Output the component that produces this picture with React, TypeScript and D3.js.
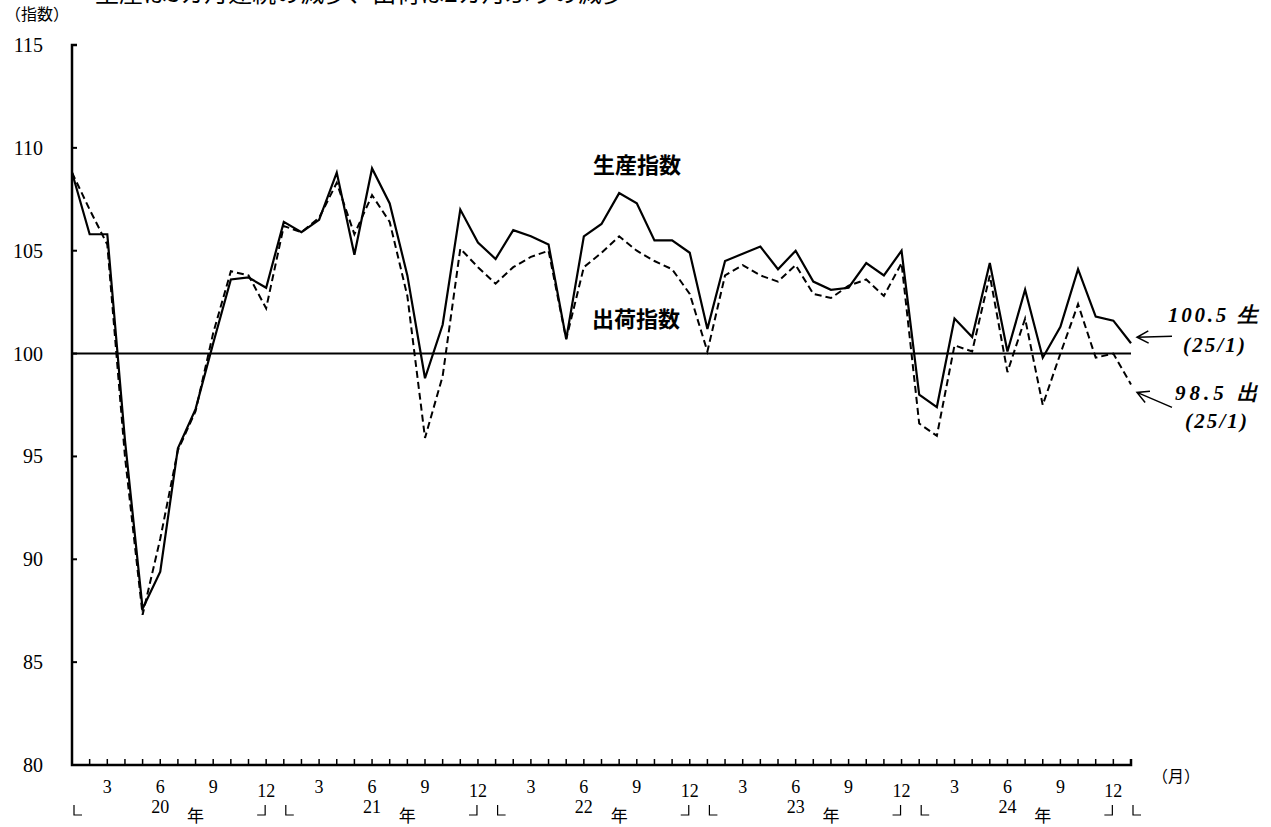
import React from "react";
import * as d3 from "d3";

const production = [
  108.8, 105.8, 105.8, 95.8, 87.6, 89.4, 95.4, 97.3, 100.5, 103.6, 103.7, 103.2,
  106.4, 105.9, 106.5, 108.8, 104.8, 109.0, 107.3, 103.8, 98.8, 101.4, 107.0, 105.4,
  104.6, 106.0, 105.7, 105.3, 100.7, 105.7, 106.3, 107.8, 107.3, 105.5, 105.5, 104.9,
  101.2, 104.5, 104.85, 105.2, 104.1, 105.0, 103.5, 103.1, 103.2, 104.4, 103.8, 105.0,
  98.0, 97.4, 101.7, 100.8, 104.4, 100.1, 103.1, 99.8, 101.3, 104.1, 101.8, 101.6,
  100.5,
];
const shipments = [
  108.8, 107.0, 105.3, 95.0, 87.3, 91.0, 95.3, 97.2, 101.0, 104.0, 103.8, 102.2,
  106.2, 105.9, 106.6, 108.3, 105.8, 107.7, 106.4, 102.8, 95.9, 98.9, 105.1, 104.2,
  103.4, 104.2, 104.7, 105.0, 100.7, 104.2, 104.9, 105.7, 105.0, 104.5, 104.1, 102.9,
  100.1, 103.8, 104.3, 103.8, 103.5, 104.3, 102.9, 102.7, 103.3, 103.6, 102.8, 104.4,
  96.6, 96.0, 100.4, 100.1, 103.8, 99.1, 101.7, 97.5, 100.0, 102.4, 99.8, 100.0,
  98.5,
];
const yTicks = [80, 85, 90, 95, 100, 105, 110, 115];
const monthTicks = [3, 6, 9, 12];
const yearLabels = ["20", "21", "22", "23", "24"];
const title = "生産は3カ月連続の減少、出荷は2カ月ぶりの減少";

const serif = "Liberation Serif, DejaVu Serif, serif";
const cjk = "Noto Sans CJK JP, sans-serif";

export default function App() {
  const W = 1271, H = 827;
  const x = d3.scaleLinear().domain([0, 60]).range([72, 1131]);
  const y = d3.scaleLinear().domain([80, 115]).range([765, 45]);
  const line = d3
    .line<number>()
    .x((_, i) => x(i))
    .y((d) => y(d));
  const n = production.length - 1;
  const y0 = y(80);

  const arrow = (tx: number, ty: number, sx: number, sy: number) => {
    const dx = sx - tx, dy = sy - ty;
    const len = Math.hypot(dx, dy);
    const ux = dx / len, uy = dy / len;
    const a = (28 * Math.PI) / 180, L = 13;
    const r = (s: number) => [
      tx + L * (ux * Math.cos(s * a) - uy * Math.sin(s * a)),
      ty + L * (ux * Math.sin(s * a) + uy * Math.cos(s * a)),
    ];
    const p1 = r(1), p2 = r(-1);
    return `M${sx},${sy}L${tx},${ty}M${p1[0]},${p1[1]}L${tx},${ty}L${p2[0]},${p2[1]}`;
  };

  const brackets: string[] = [];
  for (let k = 0; k <= 5; k++) {
    const xs = x(12 * k) + 2;
    brackets.push(`M${xs},805V815H${xs + 8}`);
    if (k < 5) {
      const xe = x(12 * k + 11) - 1;
      brackets.push(`M${xe},805V815H${xe - 8}`);
    }
  }

  const ptx = x(n) + 6;
  return (
    <svg
      width={W}
      height={H}
      style={{ position: "absolute", left: 0, top: 0, background: "#fff" }}
    >
      <rect width={W} height={H} fill="#fff" />
      <text x={95} y={2} style={{ fontFamily: cjk, fontSize: 24 }} fill="#000">
        {title}
      </text>
      <text x={5} y={14} dy="0.35em" style={{ fontFamily: cjk, fontSize: 16 }} fill="#000">
        （指数）
      </text>

      {/* y axis ticks & labels */}
      {yTicks.map((t) => (
        <g key={t}>
          <text
            x={43}
            y={y(t)}
            dy="0.35em"
            textAnchor="end"
            style={{ fontFamily: serif, fontSize: 20 }}
          >
            {t}
          </text>
          {t > 80 && (
            <line x1={x(0)} x2={x(0) + 5} y1={y(t)} y2={y(t)} stroke="#000" strokeWidth={2} />
          )}
        </g>
      ))}

      {/* x ticks */}
      {d3.range(1, n + 1).map((m) => (
        <line key={m} x1={x(m)} x2={x(m)} y1={y0} y2={y0 - 6} stroke="#000" strokeWidth={1.5} />
      ))}
      {d3.range(0, n).map((m) => {
        const mm = (m % 12) + 1;
        if (!monthTicks.includes(mm)) return null;
        return (
          <text
            key={"ml" + m}
            x={x(m)}
            y={mm === 12 ? 791 : 787}
            dy="0.35em"
            textAnchor="middle"
            style={{ fontFamily: serif, fontSize: 18 }}
          >
            {mm}
          </text>
        );
      })}
      {yearLabels.map((yl, k) => (
        <g key={yl}>
          <text x={x(12 * k + 5)} y={807} dy="0.35em" textAnchor="middle" style={{ fontFamily: serif, fontSize: 18 }}>
            {yl}
          </text>
          <text x={x(12 * k + 7)} y={816} dy="0.35em" textAnchor="middle" style={{ fontFamily: cjk, fontSize: 17 }}>
            年
          </text>
        </g>
      ))}
      <path d={brackets.join("")} fill="none" stroke="#000" strokeWidth={1.2} />
      <text x={1152} y={776} dy="0.35em" style={{ fontFamily: cjk, fontSize: 16 }}>
        （月）
      </text>

      {/* axes */}
      <path
        d={`M${x(0) + 5},${y(115)}H${x(0)}V${y0}H${x(n)}V${y0 - 6}`}
        fill="none"
        stroke="#000"
        strokeWidth={2.5}
      />
      <line x1={x(0)} x2={x(n)} y1={y(100)} y2={y(100)} stroke="#000" strokeWidth={2} />

      {/* series */}
      <path d={line(shipments) || ""} fill="none" stroke="#000" strokeWidth={2} strokeDasharray="7,4" />
      <path d={line(production) || ""} fill="none" stroke="#000" strokeWidth={2.2} strokeLinejoin="miter" />

      {/* labels */}
      <text x={593} y={165} dy="0.35em" style={{ fontFamily: cjk, fontWeight: 700, fontSize: 22 }}>
        生産指数
      </text>
      <text x={592} y={319} dy="0.35em" style={{ fontFamily: cjk, fontWeight: 700, fontSize: 22 }}>
        出荷指数
      </text>

      {/* end annotations */}
      <path d={arrow(ptx, y(production[n]) - 6, 1172, y(production[n]) - 7)} fill="none" stroke="#000" strokeWidth={1.5} />
      <path d={arrow(ptx, y(shipments[n]) + 8, 1172, y(shipments[n]) + 23)} fill="none" stroke="#000" strokeWidth={1.5} />
      <g style={{ fontFamily: serif, fontStyle: "italic", fontWeight: 700, fontSize: 21 }}>
        <text x={1168} y={315} dy="0.35em" textLength={90} lengthAdjust="spacing">
          {production[n].toFixed(1)} 生
        </text>
        <text x={1183} y={345} dy="0.35em" textLength={62} lengthAdjust="spacing">
          (25/1)
        </text>
        <text x={1175} y={393} dy="0.35em" textLength={83} lengthAdjust="spacing">
          {shipments[n].toFixed(1)} 出
        </text>
        <text x={1185} y={421} dy="0.35em" textLength={62} lengthAdjust="spacing">
          (25/1)
        </text>
      </g>
    </svg>
  );
}
